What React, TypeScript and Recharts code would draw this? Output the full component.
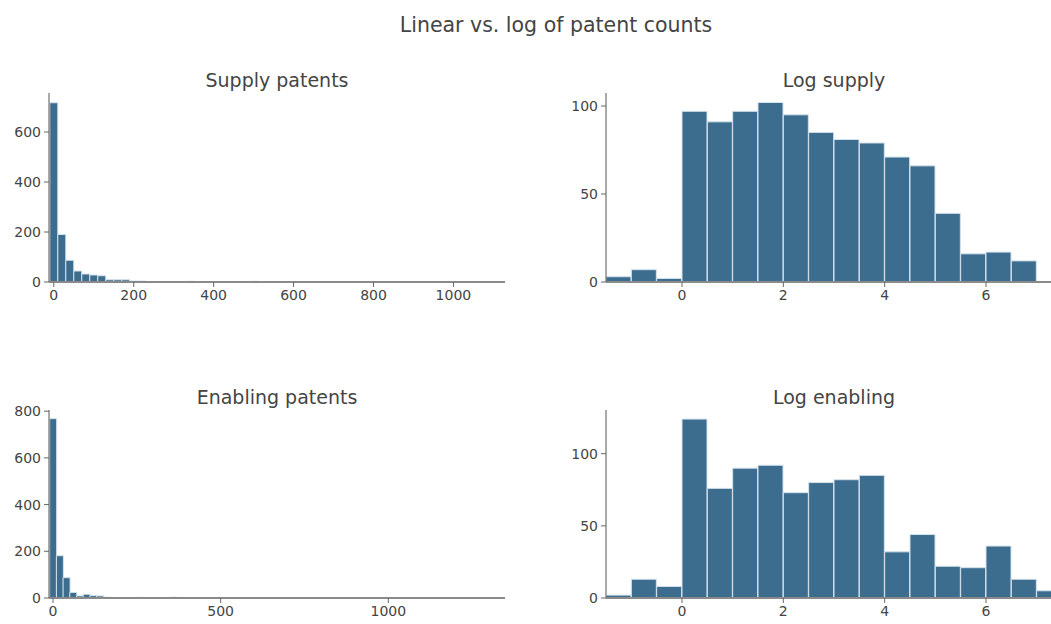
import { BarChart, Bar, XAxis, YAxis } from 'recharts';

// linear histograms: bins of 20 starting at -10
const linBinStart = -10;
const linBinWidth = 20;

const supplyCounts = [
  717, 190, 87, 44, 32, 28, 25, 9, 9, 9, 4, 4, 2, 1, 2, 1, 1, 3, 2, 1, 1, 0, 1, 2, 2, 3, 1, 1,
  0, 1, 1, 0, 1, 0, 1, 0, 0, 1, 0, 1, 0, 0, 1, 0, 0, 1, 0, 0, 1, 0, 1, 0, 0, 1, 0, 1,
];
const enablingCounts = [
  768, 181, 87, 24, 9, 16, 10, 9, 4, 1, 1, 0, 2, 3, 2, 1, 0, 1, 4, 1, 0, 1, 0, 1, 0, 1, 2, 1,
  0, 1, 0, 1, 0, 0, 1, 0, 0, 1, 0, 0, 1, 0, 0, 0, 1, 0, 0, 0, 1, 0, 0, 1, 0, 0, 0, 0, 1, 0,
  0, 0, 1, 0, 0, 0, 1, 0, 0, 1,
];

// log histograms: bins of 0.5
const logBinWidth = 0.5;
const logBinStarts = [-1.5, -1, -0.5, 0, 0.5, 1, 1.5, 2, 2.5, 3, 3.5, 4, 4.5, 5, 5.5, 6, 6.5, 7];
const logSupplyCounts = [3, 7, 2, 97, 91, 97, 102, 95, 85, 81, 79, 71, 66, 39, 16, 17, 12];
const logEnablingCounts = [2, 13, 8, 124, 76, 90, 92, 73, 80, 82, 85, 32, 44, 22, 21, 36, 13, 5];

const supplyTicksX = [0, 200, 400, 600, 800, 1000];
const supplyTicksY = [0, 200, 400, 600];
const enablingTicksX = [0, 500, 1000];
const enablingTicksY = [0, 200, 400, 600, 800];
const logTicksX = [0, 2, 4, 6];
const logTicksY = [0, 50, 100];

const linRows = (counts: number[]) =>
  counts.map((c, i) => ({ x: linBinStart + linBinWidth * i + linBinWidth / 2, count: c }));
const logRows = (counts: number[]) =>
  counts.map((c, i) => ({ x: logBinStarts[i] + logBinWidth / 2, count: c }));

const FONT = 'Verdana, "DejaVu Sans", sans-serif';
const TEXT = '#444';
const BAR = '#3c6d8f';

type PanelProps = {
  title: string;
  data: { x: number; count: number }[];
  plotLeft: number;
  plotTop: number;
  plotW: number;
  plotH: number;
  xDomain: [number, number];
  xTicks: number[];
  yDomain: [number, number];
  yTicks: number[];
};

function Panel({ title, data, plotLeft, plotTop, plotW, plotH, xDomain, xTicks, yDomain, yTicks }: PanelProps) {
  const mL = 50;
  const mT = 10;
  const mR = 10;
  const mB = 30;
  const tick = { fill: TEXT, fontSize: 14, fontFamily: FONT };
  return (
    <>
      <div
        style={{
          position: 'absolute',
          left: plotLeft,
          width: plotW,
          top: plotTop - 25,
          textAlign: 'center',
          fontFamily: FONT,
          fontSize: 19,
          lineHeight: '24px',
          color: TEXT,
        }}
      >
        {title}
      </div>
      <div style={{ position: 'absolute', left: plotLeft - mL, top: plotTop - mT }}>
        <BarChart
          width={plotW + mL + mR}
          height={plotH + mT + mB}
          data={data}
          margin={{ top: mT, right: mR, left: 0, bottom: 0 }}
          barCategoryGap={0}
          barGap={0}
        >
          <XAxis
            dataKey="x"
            type="number"
            domain={xDomain}
            ticks={xTicks}
            allowDataOverflow
            height={mB}
            tick={tick}
            tickSize={5}
            tickMargin={3}
            axisLine={{ stroke: '#8a8a8a', strokeWidth: 2 }}
            tickLine={{ stroke: '#666' }}
          />
          <YAxis
            type="number"
            domain={yDomain}
            ticks={yTicks}
            allowDataOverflow
            width={mL}
            tick={tick}
            tickSize={5}
            tickMargin={3}
            axisLine={{ stroke: '#555' }}
            tickLine={{ stroke: '#666' }}
          />
          <Bar dataKey="count" fill={BAR} stroke="#d4e2ec" strokeWidth={1} isAnimationActive={false} />
        </BarChart>
      </div>
    </>
  );
}

export default function App() {
  return (
    <div
      style={{
        position: 'absolute',
        left: 0,
        top: 0,
        width: 1051,
        height: 624,
        overflow: 'hidden',
        background: '#fff',
      }}
    >
      <div
        style={{
          position: 'absolute',
          left: 0,
          width: 1112,
          top: 12,
          textAlign: 'center',
          fontFamily: FONT,
          fontSize: 20.5,
          lineHeight: '26px',
          color: TEXT,
        }}
      >
        Linear vs. log of patent counts
      </div>
      <Panel
        title="Supply patents"
        data={linRows(supplyCounts)}
        plotLeft={49}
        plotTop={93}
        plotW={456}
        plotH={189}
        xDomain={[-12, 1129]}
        xTicks={supplyTicksX}
        yDomain={[0, 756]}
        yTicks={supplyTicksY}
      />
      <Panel
        title="Log supply"
        data={logRows(logSupplyCounts)}
        plotLeft={606}
        plotTop={93}
        plotW={456}
        plotH={189}
        xDomain={[-1.5, 7.5]}
        xTicks={logTicksX}
        yDomain={[0, 107.4]}
        yTicks={logTicksY}
      />
      <Panel
        title="Enabling patents"
        data={linRows(enablingCounts)}
        plotLeft={49}
        plotTop={410}
        plotW={456}
        plotH={188}
        xDomain={[-12, 1348]}
        xTicks={enablingTicksX}
        yDomain={[0, 805]}
        yTicks={enablingTicksY}
      />
      <Panel
        title="Log enabling"
        data={logRows(logEnablingCounts)}
        plotLeft={606}
        plotTop={410}
        plotW={456}
        plotH={188}
        xDomain={[-1.5, 7.5]}
        xTicks={logTicksX}
        yDomain={[0, 130.3]}
        yTicks={logTicksY}
      />
    </div>
  );
}
